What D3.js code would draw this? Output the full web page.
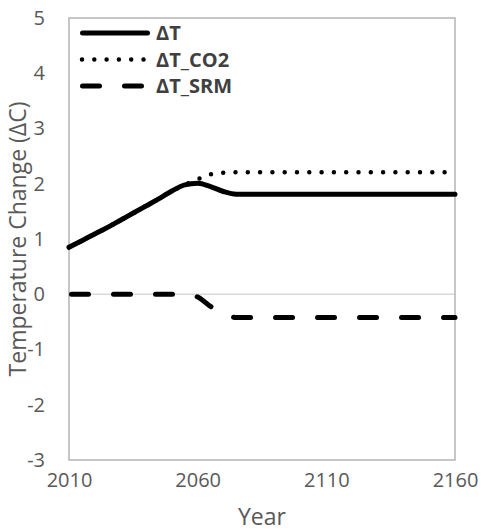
<!DOCTYPE html>
<html>
<head>
<meta charset="utf-8">
<script src="https://cdn.jsdelivr.net/npm/d3@7.9.0/dist/d3.min.js"></script>
<style>
  html, body { margin: 0; padding: 0; background: #fff; }
  svg { display: block; font-family: "Open Sans", sans-serif; }
</style>
</head>
<body>
<div id="chart"></div>
<script>
// values
const years  = [2010, 2015, 2020, 2025, 2030, 2035, 2040, 2045, 2050, 2055, 2060, 2065, 2070, 2075, 2080, 2100, 2120, 2140, 2160];
const dT     = [0.85, 0.97, 1.09, 1.21, 1.34, 1.47, 1.60, 1.73, 1.87, 1.98, 2.01, 1.95, 1.86, 1.81, 1.81, 1.81, 1.81, 1.81, 1.81];
const dT_CO2 = [0.85, 0.97, 1.09, 1.21, 1.34, 1.47, 1.60, 1.73, 1.87, 1.98, 2.08, 2.17, 2.20, 2.21, 2.21, 2.21, 2.21, 2.21, 2.21];
const dT_SRM = [0, 0, 0, 0, 0, 0, 0, 0, 0, 0, -0.05, -0.22, -0.35, -0.42, -0.42, -0.42, -0.42, -0.42, -0.42];

const xTicks = [2010, 2060, 2110, 2160];
const yTicks = [-3, -2, -1, 0, 1, 2, 3, 4, 5];
const seriesNames = ['ΔT', 'ΔT_CO2', 'ΔT_SRM'];

const width = 482;
const height = 531;
const margin = { top: 18, right: 27, bottom: 71, left: 69 };

const styles = {
    'ΔT':     { width: 5,   dash: null,     cap: 'round' },
    'ΔT_CO2': { width: 4.5, dash: '0 12.3', cap: 'round' },
    'ΔT_SRM': { width: 5,   dash: '17 25',  cap: 'round' },
};

const series = [
    { name: 'ΔT', values: dT },
    { name: 'ΔT_CO2', values: dT_CO2 },
    { name: 'ΔT_SRM', values: dT_SRM },
];

const svg = d3.select('#chart')
    .append('svg')
    .attr('width', width)
    .attr('height', height);

const x = d3.scaleLinear()
    .domain([2010, 2160])
    .range([margin.left, width - margin.right]);

const y = d3.scaleLinear()
    .domain([-3, 5])
    .range([height - margin.bottom, margin.top]);

// title, cut off at the top edge like in the original
svg.append('text')
    .attr('x', 226)
    .attr('y', -3)
    .attr('text-anchor', 'middle')
    .attr('font-size', 21)
    .attr('fill', '#595959')
    .text('(a)');

// zero line
svg.append('line')
    .attr('x1', x(2010)).attr('x2', x(2160))
    .attr('y1', y(0)).attr('y2', y(0))
    .attr('stroke', '#d9d9d9')
    .attr('stroke-width', 1.5);

// plot border
svg.append('rect')
    .attr('x', x(2010))
    .attr('y', y(5))
    .attr('width', x(2160) - x(2010))
    .attr('height', y(-3) - y(5))
    .attr('fill', 'none')
    .attr('stroke', '#b4b4b4')
    .attr('stroke-width', 1.5);

// axes
const xAxis = svg.append('g')
    .attr('transform', `translate(0, ${y(-3)})`)
    .call(d3.axisBottom(x).tickValues(xTicks).tickSize(0).tickPadding(13).tickFormat(d3.format('d')));

const yAxis = svg.append('g')
    .attr('transform', `translate(${x(2010)}, 0)`)
    .call(d3.axisLeft(y).tickValues(yTicks).tickSize(0).tickPadding(24).tickFormat(d => d));

[xAxis, yAxis].forEach(g => {
    g.select('.domain').remove();
    g.selectAll('text')
        .attr('font-family', '"Open Sans", sans-serif')
        .attr('font-size', 20)
        .attr('fill', '#595959');
});

// axis titles
svg.append('text')
    .attr('x', (x(2010) + x(2160)) / 2)
    .attr('y', 525)
    .attr('text-anchor', 'middle')
    .attr('font-size', 23)
    .attr('fill', '#595959')
    .text('Year');

svg.append('text')
    .attr('transform', `translate(26, ${(y(5) + y(-3)) / 2}) rotate(-90)`)
    .attr('text-anchor', 'middle')
    .attr('font-size', 23)
    .attr('fill', '#595959')
    .text('Temperature Change (ΔC)');

// lines
const line = d3.line()
    .x((d, i) => x(years[i]))
    .y(d => y(d))
    .curve(d3.curveMonotoneX);

svg.append('g')
    .selectAll('path')
    .data(series)
    .join('path')
    .attr('d', d => line(d.values))
    .attr('fill', 'none')
    .attr('stroke', '#000')
    .attr('stroke-width', d => styles[d.name].width)
    .attr('stroke-dasharray', d => styles[d.name].dash)
    .attr('stroke-dashoffset', d => d.name === 'ΔT_SRM' ? -2.5 : null)
    .attr('stroke-linecap', d => styles[d.name].cap);

// legend
const legend = svg.append('g');
const rows = legend.selectAll('g')
    .data(seriesNames)
    .join('g')
    .attr('transform', (d, i) => `translate(0, ${33 + i * 26.5})`);

rows.append('line')
    .attr('x1', d => d === 'ΔT_CO2' ? 82 : 82.5)
    .attr('x2', d => d === 'ΔT_CO2' ? 146 : 147.5)
    .attr('stroke', '#000')
    .attr('stroke-width', d => styles[d].width)
    .attr('stroke-dasharray', d => styles[d].dash)
    .attr('stroke-linecap', d => styles[d].cap);

rows.append('text')
    .attr('x', 156)
    .attr('dy', '0.36em')
    .attr('font-size', 20)
    .attr('font-weight', 'bold')
    .attr('fill', '#404040')
    .text(d => d);
</script>
</body>
</html>
